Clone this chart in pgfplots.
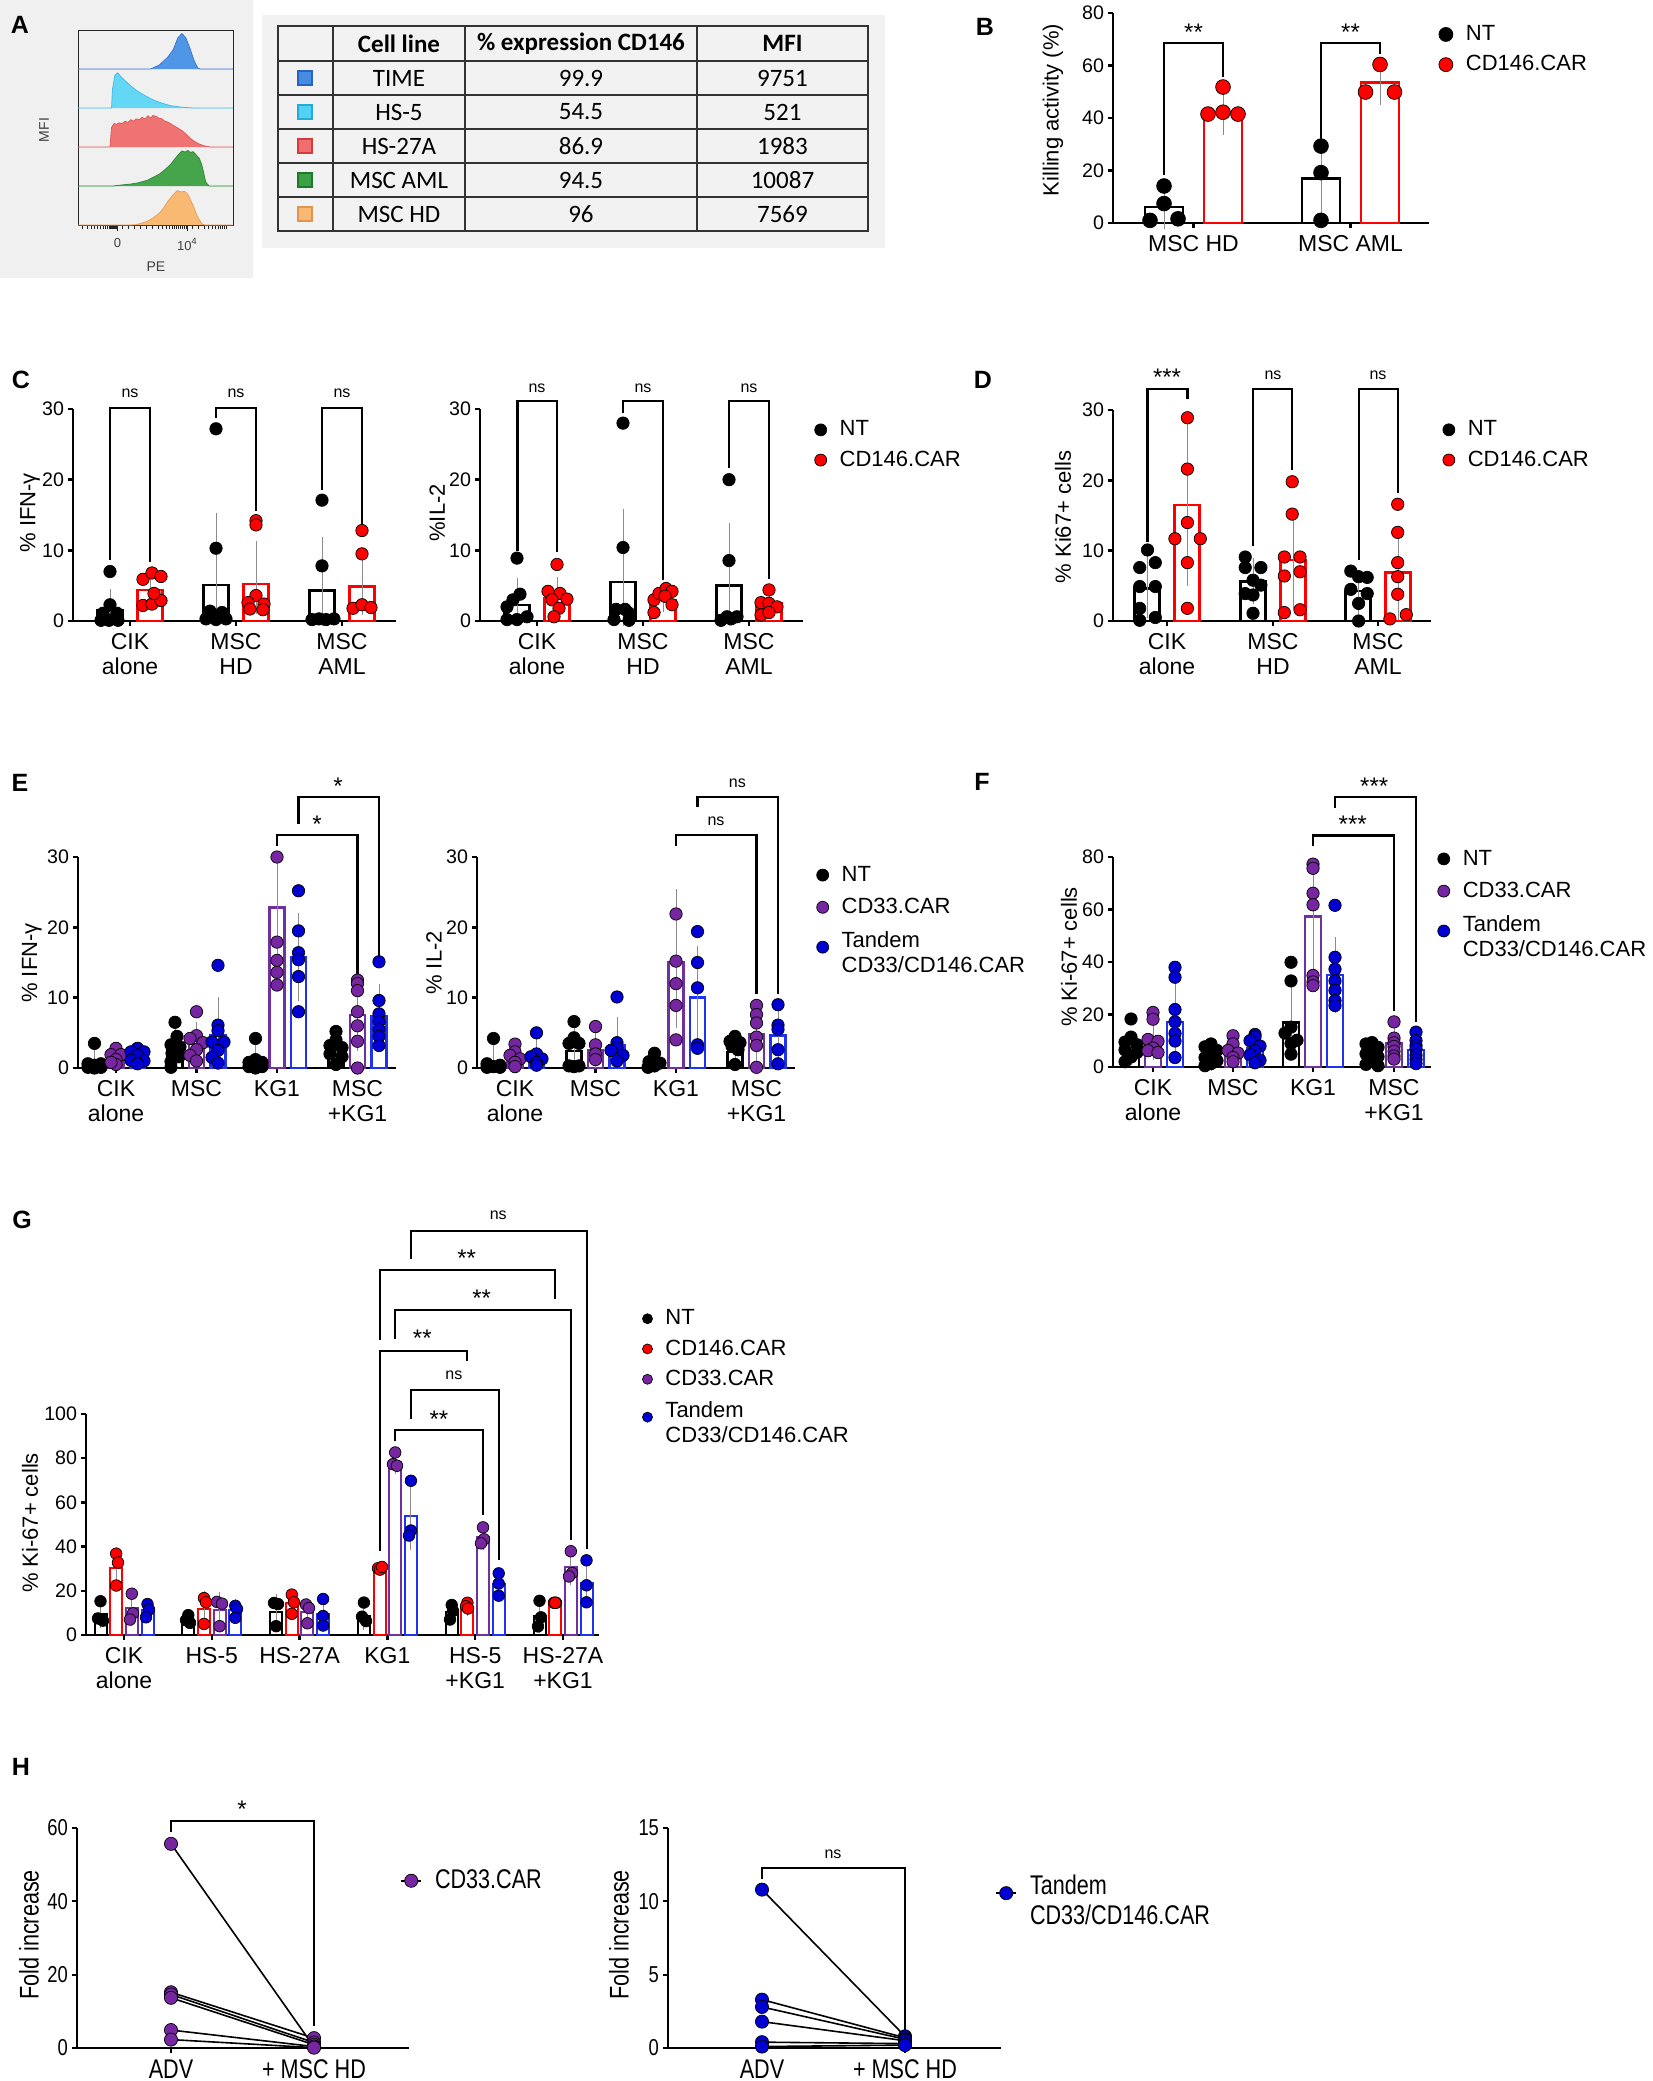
\documentclass[border=0pt]{standalone}
\usepackage{pgfplots}
\pgfplotsset{compat=1.18}
\usepackage{fontspec}
\setmainfont{Liberation Sans}
\newfontfamily\calib{Carlito}
\newfontfamily\nar{Liberation Sans}[FakeStretch=0.8]
\newcommand\fT{\fontsize{9.8bp}{10.5bp}\selectfont}
\newcommand\fC{\fontsize{11.5bp}{12.5bp}\selectfont}
\newcommand\fY{\fontsize{11bp}{12bp}\selectfont}
\newcommand\fL{\fontsize{11bp}{12.5bp}\selectfont}
\newcommand\fS{\fontsize{8bp}{9bp}\selectfont}
\newcommand\fR{\fontsize{12bp}{13bp}\selectfont}
\newcommand\fP{\fontsize{12.5bp}{13bp}\selectfont\bfseries}
\newcommand\fTab{\calib\fontsize{12.5bp}{13bp}\selectfont}
\newcommand\fNT{\nar\fontsize{11.5bp}{12bp}\selectfont}
\newcommand\fNC{\nar\fontsize{13.5bp}{15bp}\selectfont}
\definecolor{cpur}{RGB}{118,38,160}
\definecolor{cblu}{RGB}{0,0,210}
\definecolor{cred}{RGB}{255,0,0}
\definecolor{cbpur}{RGB}{112,48,160}
\definecolor{cbblu}{RGB}{30,50,240}
\pgfplotsset{
 /pgf/number format/assume math mode=true,
 pr/.style={scale only axis, clip=false, enlargelimits=false, anchor=south west,
  axis x line*=bottom, axis y line*=left,
  axis line style={line width=1.2bp, black},
  tick style={line width=1.2bp, black},
  tick align=outside, major tick length=2.5bp,
  xmin=0, ymin=0,
  yticklabel style={font=\fT, xshift=1.5bp},
  xticklabel style={font=\fC, align=center},
  every axis y label/.style={font=\fY, rotate=90, anchor=center},
  legend style={draw=none, fill=none, font=\fL, anchor=north west, inner sep=0pt, row sep=2bp, column sep=4.5bp},
  legend cell align=left,
  legend image code/.code={\draw[##1] plot coordinates {(0bp,0bp)};},
 },
 bw/.style 2 args={ybar, bar shift=0pt, bar width=#1, fill=white, draw=#2, line width=1.2bp, forget plot, mark=none},
 lg/.style 2 args={only marks, mark=*, mark size=#1, mark options={draw=black, line width=0.35bp, fill=#2}},
 dt/.style 2 args={lg={#1}{#2}, forget plot},
 eb/.style={/pgfplots/error bars/y dir=both, /pgfplots/error bars/y explicit,
  /pgfplots/error bars/error bar style={draw=black!45, line width=0.5bp},
  /pgfplots/error bars/error mark options={draw=black!45, line width=0.5bp, mark size=#1}},
 br/.style={black, line width=1.1bp, mark=none, forget plot},
 hp/.style={black, line width=0.8bp, mark=*, mark size=3.3bp, mark options={fill=#1, draw=black, line width=0.35bp}},
}
\begin{document}
\begin{tikzpicture}
\useasboundingbox (0bp,0bp) rectangle (826.5bp,-1040.5bp);
\begin{scope}[x=0.5bp,y=-0.5bp]
 \fill[black!6] (0,0) rectangle (253,278);
 \fill[black!5] (262,15) rectangle (885,248);
 \draw[black!80, line width=1.1bp] (278,26) rectangle (868,231);
 \foreach \yy in {61,95,129,163,197} \draw[black!80, line width=1.1bp] (278,\yy) -- (868,\yy);
 \foreach \xx in {333,465,697} \draw[black!80, line width=1.1bp] (\xx,26) -- (\xx,231);
 \node[font=\fTab\bfseries] at (399,43.5) {Cell line};
 \node[font=\fTab\bfseries] at (581,43.5) {\% expression CD146};
 \node[font=\fTab\bfseries] at (782.5,43.5) {MFI};
 \node[font=\fTab] at (399,78) {TIME};   \node[font=\fTab] at (581,78) {99.9}; \node[font=\fTab] at (782.5,78) {9751};
 \node[font=\fTab] at (399,112) {HS-5};  \node[font=\fTab] at (581,112) {54.5}; \node[font=\fTab] at (782.5,112) {521};
 \node[font=\fTab] at (399,146) {HS-27A};\node[font=\fTab] at (581,146) {86.9}; \node[font=\fTab] at (782.5,146) {1983};
 \node[font=\fTab] at (399,180) {MSC AML};\node[font=\fTab] at (581,180) {94.5}; \node[font=\fTab] at (782.5,180) {10087};
 \node[font=\fTab] at (399,214) {MSC HD};\node[font=\fTab] at (581,214) {96}; \node[font=\fTab] at (782.5,214) {7569};
 \filldraw[fill={rgb,255:red,70;green,140;blue,225}, draw={rgb,255:red,40;green,100;blue,190}, line width=0.6bp] (298,71) rectangle (312,85);
 \filldraw[fill={rgb,255:red,80;green,210;blue,245}, draw={rgb,255:red,40;green,170;blue,210}, line width=0.6bp] (298,105) rectangle (312,119);
 \filldraw[fill={rgb,255:red,240;green,110;blue,110}, draw={rgb,255:red,210;green,60;blue,60}, line width=0.6bp] (298,139) rectangle (312,153);
 \filldraw[fill={rgb,255:red,60;green,160;blue,70}, draw={rgb,255:red,30;green,120;blue,40}, line width=0.6bp] (298,173) rectangle (312,187);
 \filldraw[fill={rgb,255:red,250;green,185;blue,115}, draw={rgb,255:red,225;green,150;blue,80}, line width=0.6bp] (298,207) rectangle (312,221);
 \node[font=\fontsize{7bp}{8bp}\selectfont, text=black!75, rotate=90] at (44,130) {MFI};
 \node[font=\fontsize{7bp}{8bp}\selectfont, text=black!75] at (156,267) {PE};
 \node[font=\fP] at (20,25) {A};
 \node[font=\fP] at (985,27) {B};
 \node[font=\fP] at (21,380) {C};
 \node[font=\fP] at (983,380) {D};
 \node[font=\fP] at (20,783) {E};
 \node[font=\fP] at (982,782) {F};
 \node[font=\fP] at (22,1220) {G};
 \node[font=\fP] at (21,1767) {H};
\end{scope}

% ---------- A histogram
\begin{axis}[at={(39bp,-112.5bp)}, anchor=south west, scale only axis, width=77.5bp, height=97.5bp,
 xmin=0, xmax=155, ymin=0, ymax=5, enlargelimits=false, clip=false,
 axis line style={black!85, line width=0.5bp},
 ytick=\empty, xtick={39.5,109.5}, xticklabels={0,10\textsuperscript{4}}, xtick pos=left,
 minor xtick={4,9,13,16,19,22,25,27,29,31,32,33,34,35,36,37,38,44,50,56,62,68,74,80,84,88,91,94,96,98,100,102,104,106,108,114,120,126,130,134,137,140,142,144,146,148},
 tick align=outside, major tick length=3bp, minor tick length=2bp,
 tick style={black!85, line width=0.5bp},
 xticklabel style={font=\fontsize{6.5bp}{7bp}\selectfont, text=black!75}]
\addplot[fill={rgb,255:red,80;green,150;blue,230}, draw={rgb,255:red,60;green,120;blue,210}, line width=0.4bp] coordinates {(0,4) (72.6,4) (81.2,4.1) (89.7,4.3) (95.3,4.5) (99.9,4.8) (103.9,4.91) (107.8,4.8) (112.4,4.5) (116.3,4.2) (119.7,4.03) (122,4) (155,4)};
\addplot[fill={rgb,255:red,100;green,215;blue,245}, draw={rgb,255:red,70;green,190;blue,230}, line width=0.4bp] coordinates {(0,3) (33.5,3) (34.6,3.5) (37,3.85) (39.7,3.9) (43,3.8) (47.1,3.7) (52,3.58) (58.5,3.45) (64,3.36) (69.8,3.28) (75,3.21) (81.2,3.15) (87,3.1) (92.5,3.06) (98,3.04) (103.9,3.02) (115.2,3.0) (155,3)};
\addplot[fill={rgb,255:red,240;green,115;blue,115}, draw={rgb,255:red,225;green,90;blue,90}, line width=0.4bp] coordinates {(0,2) (32,2) (33.5,2.5) (36,2.6) (38.6,2.58) (41,2.62) (44.3,2.6) (47,2.66) (49.9,2.63) (53,2.7) (55.6,2.66) (58,2.72) (61.3,2.7) (64,2.76) (67,2.72) (70,2.8) (72.6,2.74) (75,2.81) (78.3,2.78) (81,2.74) (84,2.72) (87,2.66) (89.7,2.64) (92.5,2.6) (95.3,2.55) (99,2.5) (103.9,2.42) (108,2.33) (112.4,2.22) (116,2.15) (120.9,2.08) (126,2.03) (132.2,2) (155,2)};
\addplot[fill={rgb,255:red,70;green,165;blue,75}, draw={rgb,255:red,50;green,140;blue,55}, line width=0.4bp] coordinates {(0,1) (35,1) (38.6,1.01) (45,1.03) (52.8,1.05) (60,1.08) (69.8,1.15) (75,1.22) (81.2,1.3) (87,1.42) (92.5,1.55) (97,1.7) (101,1.82) (104,1.9) (106.7,1.87) (110,1.91) (112.4,1.86) (115,1.88) (118,1.8) (121,1.72) (123.7,1.55) (126,1.3) (127.7,1.1) (131.1,1) (155,1)};
\addplot[fill={rgb,255:red,248;green,185;blue,115}, draw={rgb,255:red,235;green,160;blue,90}, line width=0.4bp] coordinates {(0,0) (52,0) (58.5,0.01) (64,0.05) (69.8,0.1) (75,0.18) (81.2,0.3) (86,0.45) (89.7,0.6) (95.3,0.78) (99.3,0.88) (102.7,0.85) (106.7,0.86) (110,0.78) (112.4,0.65) (116,0.45) (118,0.3) (120.9,0.15) (124.3,0.02) (127,0) (155,0)};
\end{axis}

% ---------- B
\begin{axis}[pr, at={(556.5bp,-111.5bp)}, width=158bp, height=105bp, xmax=316, ymax=80,
 ytick={0,20,40,60,80}, xtick={80.5,237.5}, xticklabels={MSC HD,MSC AML},
 ylabel={Killing activity (\%)}, ylabel style={at={(axis description cs:-0.19,0.538)}},
 legend style={at={(1.03,0.962)}}]
\addplot[bw={38}{black}, eb=3bp] coordinates {(51,6) += (0,6.3) -= (0,6) (208,17) += (0,14.3) -= (0,14.7)};
\addplot[bw={38}{cred}, eb=3bp] coordinates {(110,42) += (0,6.5) -= (0,6) (267,53.5) += (0,6.2) -= (0,6.1)};
\addplot[dt={3.7bp}{black}] coordinates {(51,14.1) (51,7.4) (37,1.0) (65,1.6) (208,29.3) (208,19.2) (208,1.0)};
\addplot[dt={3.7bp}{cred}] coordinates {(110,51.8) (95,41.5) (110,42.2) (125,41.5) (267,60.4) (252.5,49.9) (281.5,49.9)};
\addplot[br] coordinates {(51,18.2) (51,68.6) (110,68.6) (110,55.6)};
\addplot[br] coordinates {(208,31.5) (208,68.6) (267,68.6) (267,64.5)};
\node[font=\fR] at (axis cs:80.5,72.5) {**};
\node[font=\fR] at (axis cs:237.5,72.5) {**};
\addlegendimage{lg={3.5bp}{black}} \addlegendentry{NT}
\addlegendimage{lg={3.5bp}{cred}} \addlegendentry{CD146.CAR}
\end{axis}

% ---------- C left
\begin{axis}[pr, at={(36.5bp,-310.5bp)}, width=161.5bp, height=106bp, xmax=323, ymax=30,
 ytick={0,10,20,30}, xtick={57,163,269}, xticklabels={{CIK\\alone},{MSC\\HD},{MSC\\AML}},
 ylabel={\% IFN-γ}, ylabel style={at={(axis description cs:-0.133,0.51)}}]
\addplot[bw={25}{black}, eb=2.5bp] coordinates {(37,1.5) += (0,2.3) -= (0,1.5) (143,5.1) += (0,9.5) -= (0,5.1) (249,4.3) += (0,6.9) -= (0,4.3)};
\addplot[bw={25}{cred}, eb=2.5bp] coordinates {(77,4.4) += (0,1.9) -= (0,1.9) (183,5.2) += (0,5.4) -= (0,3.5) (289,4.9) += (0,4.7) -= (0,3.3)};
\addplot[dt={3.1bp}{black}] coordinates {(37,7.0) (37,2.3) (30,1.1) (44,1.1) (28,0.1) (36,0.1) (45,0.1) (143,27.2) (143,10.3) (137,1.4) (149,1.2) (133,0.3) (143,0.2) (153,0.3) (249,17.1) (249,7.8) (239,0.2) (246,0.3) (253,0.2) (261,0.3)};
\addplot[dt={3.1bp}{cred}] coordinates {(70,5.9) (79,6.8) (88,6.3) (70,2.2) (79,2.4) (88,2.9) (81,3.9) (183,14.2) (183,13.6) (183,3.6) (175,2.6) (191,2.4) (177,1.7) (190,1.6) (289,12.8) (289,9.5) (280,1.8) (289,2.3) (298,1.9)};
\addplot[br] coordinates {(37,8.6) (37,30.1) (77,30.1) (77,8.4)};
\addplot[br] coordinates {(143,28.7) (143,30.1) (183,30.1) (183,15.5)};
\addplot[br] coordinates {(249,18.6) (249,30.1) (289,30.1) (289,13.1)};
\node[font=\fS] at (axis cs:57,32.2) {ns};
\node[font=\fS] at (axis cs:163,32.2) {ns};
\node[font=\fS] at (axis cs:269,32.2) {ns};
\end{axis}

% ---------- C right
\begin{axis}[pr, at={(240bp,-310.5bp)}, width=161.5bp, height=106bp, xmax=323, ymax=30,
 ytick={0,10,20,30}, xtick={57,163,269}, xticklabels={{CIK\\alone},{MSC\\HD},{MSC\\AML}},
 ylabel={\%IL-2}, ylabel style={at={(axis description cs:-0.132,0.51)}},
 legend style={at={(1.035,0.965)}}]
\addplot[bw={25}{black}, eb=2.5bp] coordinates {(37,2.3) += (0,3.1) -= (0,2.0) (143,5.5) += (0,9.7) -= (0,5.5) (249,5.0) += (0,8.1) -= (0,5.0)};
\addplot[bw={25}{cred}, eb=2.5bp] coordinates {(77,3.2) += (0,2.3) -= (0,1.5) (183,3.0) += (0,1.0) -= (0,1.0) (289,2.5) += (0,1.0) -= (0,1.0)};
\addplot[dt={3.1bp}{black}] coordinates {(37,8.9) (40,3.8) (33,3.0) (27,2.0) (27,0.2) (37,0.2) (47,0.6) (143,28.0) (143,10.4) (136,1.65) (145,1.65) (149,1.1) (134,0.2) (149,0.1) (249,20.0) (249,8.55) (241,0.1) (247,0.6) (257,0.6) (251,0.3)};
\addplot[dt={3.1bp}{cred}] coordinates {(77,8.0) (68,4.2) (80,3.9) (87,3.1) (72,3.0) (79,1.8) (74,0.6) (174,3.0) (179,3.9) (186,4.6) (192,4.2) (185,3.5) (192,2.3) (174,1.2) (289,4.4) (281,2.6) (289,2.5) (297,2.0) (281,0.85) (289,1.2)};
\addplot[br] coordinates {(37.5,9.9) (37.5,31.1) (77,31.1) (77,9.7)};
\addplot[br] coordinates {(143,29.4) (143,31.1) (183,31.1) (183,5.8)};
\addplot[br] coordinates {(249,21.6) (249,31.1) (289,31.1) (289,6.0)};
\node[font=\fS] at (axis cs:57,33.0) {ns};
\node[font=\fS] at (axis cs:163,33.0) {ns};
\node[font=\fS] at (axis cs:269,33.0) {ns};
\addlegendimage{lg={3bp}{black}} \addlegendentry{NT}
\addlegendimage{lg={3bp}{cred}} \addlegendentry{CD146.CAR}
\end{axis}

% ---------- D
\begin{axis}[pr, at={(556.5bp,-310.5bp)}, width=159bp, height=105.5bp, xmax=318, ymax=30,
 ytick={0,10,20,30}, xtick={54,160,265}, xticklabels={{CIK\\alone},{MSC\\HD},{MSC\\AML}},
 ylabel={\% Ki67+ cells}, ylabel style={at={(axis description cs:-0.157,0.493)}},
 legend style={at={(1.036,0.97)}}]
\addplot[bw={25}{black}, eb=2.5bp] coordinates {(34,4.6) += (0,3.9) -= (0,3.5) (140,5.6) += (0,2.7) -= (0,2.5) (245,4.3) += (0,1.9) -= (0,2.6)};
\addplot[bw={25}{cred}, eb=2.5bp] coordinates {(74,16.5) += (0,10.8) -= (0,10.8) (180,8.7) += (0,6.3) -= (0,6.3) (285,6.9) += (0,5.6) -= (0,6.0)};
\addplot[dt={3.1bp}{black}] coordinates {(34.5,10.1) (42.3,8.3) (26.7,7.6) (26.7,4.9) (42.3,4.9) (26.7,1.8) (26.7,0.1) (42.3,0.5) (132.2,9.1) (132.2,7.6) (147.9,7.6) (140,5.8) (147.9,5.1) (132.2,3.9) (140,3.7) (140,1.1) (237.8,7.1) (245.6,6.3) (254.2,6.2) (237.8,4.5) (254.2,3.9) (245.6,2.5) (245.6,0)};
\addplot[dt={3.1bp}{cred}] coordinates {(74.4,28.9) (74.4,21.6) (74.4,14.0) (61.9,11.7) (87.3,11.7) (74.4,8.3) (74.4,1.8) (179.2,19.8) (179.2,15.2) (171.3,9.1) (187,9.1) (171.3,6.4) (187,7.0) (171.3,1.2) (187,1.6) (284.7,16.6) (284.7,12.6) (284.7,8.3) (284.7,6.3) (284.7,3.8) (293.3,0.9) (276.9,0.3)};
\addplot[br] coordinates {(34.5,11.3) (34.5,33.0) (74.4,33.0) (74.4,31.5)};
\addplot[br] coordinates {(140,10.6) (140,33.0) (179.2,33.0) (179.2,21.5)};
\addplot[br] coordinates {(245.6,8.7) (245.6,33.0) (284.7,33.0) (284.7,18.2)};
\node[font=\fR] at (axis cs:54,34.6) {***};
\node[font=\fS] at (axis cs:160,35.0) {ns};
\node[font=\fS] at (axis cs:265,35.0) {ns};
\addlegendimage{lg={3bp}{black}} \addlegendentry{NT}
\addlegendimage{lg={3bp}{cred}} \addlegendentry{CD146.CAR}
\end{axis}

% ---------- E left
\begin{axis}[pr, at={(39bp,-534bp)}, width=159bp, height=105.5bp, xmax=318, ymax=30,
 ytick={0,10,20,30}, xtick={38,118.5,199,279.5}, xticklabels={{CIK\\alone},MSC,KG1,{MSC\\+KG1}},
 ylabel={\% IFN-γ}, ylabel style={at={(axis description cs:-0.145,0.498)}}]
\addplot[bw={15}{black}, eb=2.5bp] coordinates {(16.5,0.5) += (0,1.5) -= (0,0.5) (97,2.8) += (0,2.2) -= (0,2.2) (177.5,0.4) += (0,2.1) -= (0,0.4) (258,2.5) += (0,1.2) -= (0,1.2)};
\addplot[bw={15}{cbpur}, eb=2.5bp] coordinates {(38,1.2) += (0,0.8) -= (0,0.8) (118.5,3.4) += (0,2.4) -= (0,2.4) (199,22.8) += (0,7.2) -= (0,7.2) (279.5,7.5) += (0,4.4) -= (0,4.4)};
\addplot[bw={15}{cbblu}, eb=2.5bp] coordinates {(59.5,1.5) += (0,0.8) -= (0,0.8) (140,4.7) += (0,4.7) -= (0,3.7) (220.5,15.8) += (0,5.5) -= (0,5.5) (301,7.3) += (0,4.0) -= (0,3.7)};
\addplot[dt={3.1bp}{black}] coordinates {(16.5,3.5) (10,0.6) (16.5,0.4) (23,0.6) (10,0.1) (16.5,0.0) (23,0.1) (97,6.5) (99,4.5) (93,3.3) (102,3.0) (94,2.1) (101,1.6) (93,0.9) (93,0.1) (177.5,4.2) (177.5,1.2) (171,0.8) (184,0.8) (171,0.2) (184,0.2) (177.5,0.0) (258,5.2) (258,4.0) (252,3.2) (264,2.9) (252,2.0) (264,1.6) (258,0.5)};
\addplot[dt={3.1bp}{cpur}] coordinates {(38,2.8) (33,1.9) (43,1.9) (38,1.2) (38,0.5) (33,0.8) (118.5,8.0) (118.5,4.6) (112,4.2) (125,3.6) (118.5,2.6) (112,1.8) (118.5,1.0) (199,30.0) (199,17.9) (199,15.3) (199,13.6) (199,11.8) (279.5,12.5) (279.5,12.0) (279.5,11.0) (279.5,8.0) (279.5,6.0) (279.5,3.8) (279.5,0.0)};
\addplot[dt={3.1bp}{cblu}] coordinates {(59.5,2.8) (53,2.3) (66,2.3) (59.5,1.8) (53,1.1) (66,1.0) (59.5,0.6) (140,14.6) (140,6.1) (140,5.3) (134,3.7) (146,3.7) (140,2.5) (134,1.5) (140,0.7) (220.5,25.2) (220.5,19.5) (220.5,16.4) (220.5,15.4) (220.5,13.0) (220.5,8.0) (301,15.1) (301,9.6) (301,7.7) (301,6.6) (301,5.5) (301,4.5) (301,3.2)};
\addplot[br] coordinates {(199,31.5) (199,33.1) (279.5,33.1) (279.5,10.4)};
\addplot[br] coordinates {(220.5,34.7) (220.5,38.5) (301,38.5) (301,15.8)};
\node[font=\fR] at (axis cs:239,34.6) {*};
\node[font=\fR] at (axis cs:260,40.1) {*};
\end{axis}

% ---------- E right
\begin{axis}[pr, at={(238.5bp,-534bp)}, width=159bp, height=105.5bp, xmax=318, ymax=30,
 ytick={0,10,20,30}, xtick={38,118.5,199,279.5}, xticklabels={{CIK\\alone},MSC,KG1,{MSC\\+KG1}},
 ylabel={\% IL-2}, ylabel style={at={(axis description cs:-0.135,0.498)}},
 legend style={at={(1.067,0.978)}, row sep=3bp}]
\addplot[bw={15}{black}, eb=2.5bp] coordinates {(16.5,0.5) += (0,2.1) -= (0,0.5) (97,2.4) += (0,2.6) -= (0,2.4) (177.5,0.3) += (0,0.9) -= (0,0.3) (258,2.3) += (0,1.3) -= (0,1.3)};
\addplot[bw={15}{cbpur}, eb=2.5bp] coordinates {(38,1.3) += (0,0.9) -= (0,0.9) (118.5,2.6) += (0,1.9) -= (0,1.9) (199,15.0) += (0,9.7) -= (0,8.6) (279.5,4.8) += (0,3.3) -= (0,3.4)};
\addplot[bw={15}{cbblu}, eb=2.5bp] coordinates {(59.5,1.7) += (0,1.7) -= (0,1.2) (140,3.3) += (0,3.3) -= (0,2.5) (220.5,10.0) += (0,6.6) -= (0,6.0) (301,4.6) += (0,2.9) -= (0,3.0)};
\addplot[dt={3.1bp}{black}] coordinates {(16.5,4.2) (10,0.6) (23,0.4) (16.5,0.2) (10,0.1) (23,0.1) (97,6.6) (97,4.3) (92,3.5) (102,3.5) (92,0.3) (102,0.3) (97,0.2) (177.5,2.1) (172,0.9) (183,0.7) (177.5,0.3) (171,0.1) (258,4.5) (253,3.8) (263,3.6) (255,3.1) (261,2.6) (258,0.5)};
\addplot[dt={3.1bp}{cpur}] coordinates {(38,3.4) (38,2.3) (33,1.8) (43,1.3) (38,0.8) (38,0.2) (118.5,5.9) (118.5,3.3) (118.5,2.0) (118.5,1.2) (199,21.9) (199,15.2) (199,12.0) (199,8.9) (199,4.0) (279.5,8.9) (279.5,7.6) (279.5,6.4) (279.5,4.4) (279.5,3.2) (279.5,0.1)};
\addplot[dt={3.1bp}{cblu}] coordinates {(59.5,5.0) (59.5,2.0) (54,1.6) (65,1.3) (59.5,0.8) (59.5,0.4) (140,10.1) (140,3.6) (140,2.9) (134,2.5) (146,1.8) (140,1.0) (220.5,19.4) (220.5,15.0) (220.5,11.4) (220.5,3.3) (220.5,2.8) (301,9.0) (301,6.1) (301,5.5) (301,2.6) (301,0.6)};
\addplot[br] coordinates {(199,31.6) (199,33.1) (279.5,33.1) (279.5,10.5)};
\addplot[br] coordinates {(220.5,37.1) (220.5,38.5) (301,38.5) (301,10.5)};
\node[font=\fS] at (axis cs:239,35.1) {ns};
\node[font=\fS] at (axis cs:260.3,40.5) {ns};
\addlegendimage{lg={3bp}{black}} \addlegendentry{NT}
\addlegendimage{lg={3bp}{cpur}} \addlegendentry{CD33.CAR}
\addlegendimage{lg={3bp}{cblu}} \addlegendentry{\begin{tabular}{@{}l@{}}Tandem\\CD33/CD146.CAR\end{tabular}}
\end{axis}

% ---------- F
\begin{axis}[pr, at={(556.5bp,-533.5bp)}, width=159bp, height=105bp, xmax=318, ymax=80,
 ytick={0,20,40,60,80}, xtick={40,120,200,281}, xticklabels={{CIK\\alone},MSC,KG1,{MSC\\+KG1}},
 ylabel={\% Ki-67+ cells}, ylabel style={at={(axis description cs:-0.138,0.524)}},
 legend style={at={(1.02,1.055)}, row sep=3bp}]
\addplot[bw={16}{black}, eb=2.5bp] coordinates {(18,7.0) += (0,4.5) -= (0,4.5) (98,4.0) += (0,3.5) -= (0,3.5) (178,17.0) += (0,12.5) -= (0,12.5) (259,4.3) += (0,3.3) -= (0,3.3)};
\addplot[bw={16}{cbpur}, eb=2.5bp] coordinates {(40,10.2) += (0,5.5) -= (0,5.5) (120,5.3) += (0,3.4) -= (0,3.4) (200,57.4) += (0,20.5) -= (0,20.5) (281,8.9) += (0,4.0) -= (0,4.0)};
\addplot[bw={16}{cbblu}, eb=2.5bp] coordinates {(62,17.1) += (0,13.2) -= (0,13.2) (142,7.0) += (0,3.6) -= (0,3.6) (222,35.0) += (0,12.5) -= (0,12.5) (303,6.4) += (0,4.0) -= (0,4.0)};
\addplot[dt={3.1bp}{black}] coordinates {(18,18.3) (18,11.4) (12,9.5) (24,8.5) (12,6.5) (24,5.5) (18,3.8) (12,2.0) (98,8.8) (92,7.7) (104,6.3) (98,4.9) (92,3.6) (104,2.4) (98,1.3) (92,0.5) (178,39.9) (178,32.8) (178,15.2) (172,12.9) (184,10.2) (178,8.9) (178,4.9) (259,9.3) (253,8.8) (265,7.5) (259,6.5) (253,5.0) (265,3.9) (259,2.3) (253,1.0) (265,0.5)};
\addplot[dt={3.1bp}{cpur}] coordinates {(40,20.8) (40,18.2) (35,10.5) (45,9.8) (40,7.2) (35,6.2) (45,5.5) (120,11.9) (120,8.8) (115,6.3) (125,5.3) (120,3.6) (120,2.0) (200,77.3) (200,75.7) (200,66.2) (200,61.8) (200,34.9) (200,32.4) (200,31.0) (281,17.2) (281,11.0) (281,9.2) (281,7.8) (281,6.0) (281,4.2) (281,3.0)};
\addplot[dt={3.1bp}{cblu}] coordinates {(62,38.0) (62,34.2) (62,21.9) (62,17.2) (62,12.8) (62,9.9) (62,3.6) (142,12.4) (142,11.5) (137,10.0) (147,8.0) (142,6.2) (137,4.6) (147,2.6) (142,1.6) (222,61.6) (222,41.8) (222,37.3) (222,32.8) (222,29.2) (222,25.3) (222,23.4) (303,13.3) (303,10.1) (303,8.2) (303,6.9) (303,4.5) (303,2.9) (303,1.3)};
\addplot[br] coordinates {(200,84.1) (200,88.2) (281,88.2) (281,21.5)};
\addplot[br] coordinates {(222,98.5) (222,103) (303,103) (303,17.3)};
\node[font=\fR] at (axis cs:239.7,92.5) {***};
\node[font=\fR] at (axis cs:261.2,107) {***};
\addlegendimage{lg={3bp}{black}} \addlegendentry{NT}
\addlegendimage{lg={3bp}{cpur}} \addlegendentry{CD33.CAR}
\addlegendimage{lg={3bp}{cblu}} \addlegendentry{\begin{tabular}{@{}l@{}}Tandem\\CD33/CD146.CAR\end{tabular}}
\end{axis}

% ---------- G
\begin{axis}[pr, at={(43bp,-817.5bp)}, width=256.5bp, height=110.5bp, xmax=513, ymax=100,
 ytick={0,20,40,60,80,100}, xtick={38,125.8,213.6,301.4,389.2,477},
 xticklabels={{CIK\\alone},HS-5,HS-27A,KG1,{HS-5\\+KG1},{HS-27A\\+KG1}},
 ylabel={\% Ki-67+ cells}, ylabel style={at={(axis description cs:-0.109,0.507)}},
 legend style={at={(1.084,1.492)}}]
\addplot[bw={12}{black}, eb=2bp, line width=1bp] coordinates {(14.5,9.7) +- (0,4.5) (102.3,7.0) +- (0,2) (190.1,10.6) +- (0,6) (277.9,8.5) +- (0,4.5) (365.7,10.4) +- (0,3.5) (453.5,8.6) +- (0,5.8)};
\addplot[bw={12}{cred}, eb=2bp, line width=1bp] coordinates {(30.2,30.4) +- (0,7.5) (118,12.0) +- (0,6) (205.8,14.5) +- (0,4.5) (293.6,29.8) +- (0,1) (381.4,12.1) +- (0,1.5) (469.2,14.6) +- (0,0.3)};
\addplot[bw={12}{cbpur}, eb=2bp, line width=1bp] coordinates {(45.8,12.2) +- (0,6.5) (133.6,11.3) +- (0,6.5) (221.4,10.3) +- (0,4.5) (309.2,78.3) +- (0,3.5) (397,44.3) +- (0,4) (484.8,30.8) +- (0,6.5)};
\addplot[bw={12}{cbblu}, eb=2bp, line width=1bp] coordinates {(61.5,11.3) +- (0,3) (149.3,11.5) +- (0,3) (237.1,9.7) +- (0,6) (324.9,53.8) +- (0,13.5) (412.7,22.9) +- (0,5) (500.5,23.5) +- (0,9.5)};
\addplot[dt={2.9bp}{black}] coordinates {(14.5,15.3) (12,7.5) (17,6.5) (102.3,9.0) (100,6.7) (104,5.5) (188,14.5) (192,14.0) (190.1,4.0) (277.9,14.7) (276,8.3) (280,6.3) (365.7,13.6) (367,10.9) (364,7.0) (453.5,15.5) (455,8.0) (452,3.9)};
\addplot[dt={2.9bp}{cred}] coordinates {(30.2,36.8) (32,32.8) (30.2,22.4) (118,16.7) (120,14.8) (118,5.0) (205.8,18.3) (208,14.8) (205.8,9.6) (292,30.2) (294,29.6) (296,30.8) (381.4,14.6) (380,13.0) (382,12.0) (468,14.6) (470,14.6) (469.2,14.6)};
\addplot[dt={2.9bp}{cpur}] coordinates {(45.8,18.7) (47,9.8) (44,7.0) (131,15.0) (136,14.2) (133.6,4.0) (220,13.8) (223,12.2) (221.4,5.3) (309.2,82.6) (307,77.3) (311,76.6) (397,48.7) (398,43.3) (395,41.5) (484.8,37.9) (486,28.0) (483,26.5)};
\addplot[dt={2.9bp}{cblu}] coordinates {(61.5,14.0) (63,11.5) (60,8.0) (149.3,13.2) (151,11.8) (149.3,7.8) (237.1,16.3) (237.1,8.6) (237.1,4.3) (324.9,69.8) (324.9,47.3) (323,45.0) (412.7,27.9) (412.7,23.3) (412.7,17.8) (500.5,33.8) (500.5,22.5) (500.5,14.8)};
\addplot[br, line width=1bp] coordinates {(309.2,87.6) (309.2,92.6) (397,92.6) (397,54.4)};
\addplot[br, line width=1bp] coordinates {(324.9,97.7) (324.9,110.7) (412.7,110.7) (412.7,34)};
\addplot[br, line width=1bp] coordinates {(293.6,37.8) (293.6,128.7) (381.4,128.7) (381.4,123.9)};
\addplot[br, line width=1bp] coordinates {(309.2,134) (309.2,147) (484.8,147) (484.8,43)};
\addplot[br, line width=1bp] coordinates {(293.6,133.7) (293.6,165) (469.2,165) (469.2,152)};
\addplot[br, line width=1bp] coordinates {(324.9,170) (324.9,183) (500.5,183) (500.5,39)};
\node[font=\fR] at (axis cs:352.9,97.5) {**};
\node[font=\fS] at (axis cs:367.9,117.5) {ns};
\node[font=\fR] at (axis cs:336.3,134.2) {**};
\node[font=\fR] at (axis cs:395.6,152.3) {**};
\node[font=\fR] at (axis cs:380.6,170.5) {**};
\node[font=\fS] at (axis cs:412.2,189.9) {ns};
\addlegendimage{lg={2.5bp}{black}} \addlegendentry{NT}
\addlegendimage{lg={2.5bp}{cred}} \addlegendentry{CD146.CAR}
\addlegendimage{lg={2.5bp}{cpur}} \addlegendentry{CD33.CAR}
\addlegendimage{lg={2.5bp}{cblu}} \addlegendentry{\begin{tabular}{@{}l@{}}Tandem\\CD33/CD146.CAR\end{tabular}}
\end{axis}

% ---------- H left
\begin{axis}[pr, at={(38.5bp,-1024bp)}, width=166bp, height=110bp, xmax=332, ymax=60,
 axis line style={line width=1bp}, tick style={line width=1bp},
 yticklabel style={font=\fNT}, xticklabel style={font=\fNC},
 ytick={0,20,40,60}, xtick={94,237}, xticklabels={ADV,+ MSC HD},
 ylabel={Fold increase}, ylabel style={font=\fNC, at={(axis description cs:-0.145,0.514)}},
 legend style={font=\fNC, at={(0.973,0.83)}},
 legend image code/.code={\draw[#1, mark=none] (-5bp,0bp) -- (5bp,0bp); \draw[#1] plot coordinates {(0bp,0bp)};}]
\addplot[hp=cpur, forget plot] coordinates {(94,55.7) (237,0.3)};
\addplot[hp=cpur, forget plot] coordinates {(94,15.2) (237,2.7)};
\addplot[hp=cpur, forget plot] coordinates {(94,14.6) (237,1.5)};
\addplot[hp=cpur, forget plot] coordinates {(94,13.7) (237,0.9)};
\addplot[hp=cpur, forget plot] coordinates {(94,4.9) (237,0.4)};
\addplot[hp=cpur, forget plot] coordinates {(94,2.3) (237,0.1)};
\addplot[br, line width=1bp] coordinates {(94,59) (94,62) (237,62) (237,5.9)};
\node[font=\fR] at (axis cs:165,65) {*};
\addlegendimage{hp=cpur}
\addlegendentry{CD33.CAR}
\end{axis}

% ---------- H right
\begin{axis}[pr, at={(334bp,-1024bp)}, width=166.5bp, height=110bp, xmax=333, ymax=15,
 axis line style={line width=1bp}, tick style={line width=1bp},
 yticklabel style={font=\fNT}, xticklabel style={font=\fNC},
 ytick={0,5,10,15}, xtick={94,237}, xticklabels={ADV,+ MSC HD},
 ylabel={Fold increase}, ylabel style={font=\fNC, at={(axis description cs:-0.147,0.514)}},
 legend style={font=\fNC, at={(0.982,0.815)}},
 legend image code/.code={\draw[#1, mark=none] (-5bp,0bp) -- (5bp,0bp); \draw[#1] plot coordinates {(0bp,0bp)};}]
\addplot[hp=cblu, forget plot] coordinates {(94,10.8) (237,0.8)};
\addplot[hp=cblu, forget plot] coordinates {(94,3.3) (237,0.7)};
\addplot[hp=cblu, forget plot] coordinates {(94,2.8) (237,0.6)};
\addplot[hp=cblu, forget plot] coordinates {(94,1.8) (237,0.5)};
\addplot[hp=cblu, forget plot] coordinates {(94,0.4) (237,0.3)};
\addplot[hp=cblu, forget plot] coordinates {(94,0.1) (237,0.2)};
\addplot[br, line width=1bp] coordinates {(94,11.5) (94,12.3) (237,12.3) (237,1.1)};
\node[font=\fS] at (axis cs:165,13.2) {ns};
\addlegendimage{hp=cblu}
\addlegendentry{\begin{tabular}{@{}l@{}}Tandem\\CD33/CD146.CAR\end{tabular}}
\end{axis}
\end{tikzpicture}
\end{document}
